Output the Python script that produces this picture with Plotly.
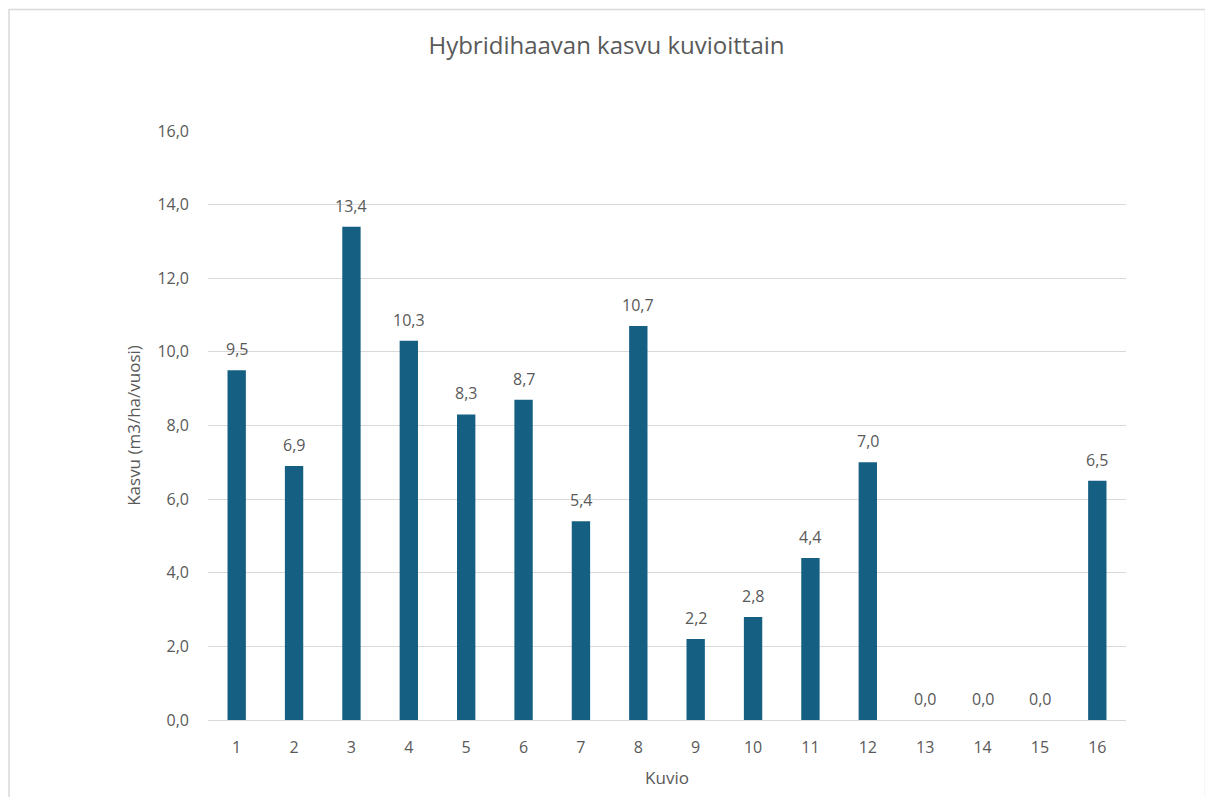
import plotly.graph_objects as go

categories = list(range(1, 17))
values = [9.5, 6.9, 13.4, 10.3, 8.3, 8.7, 5.4, 10.7, 2.2, 2.8, 4.4, 7.0, 0.0, 0.0, 0.0, 6.5]
y_ticks = [0, 2, 4, 6, 8, 10, 12, 14, 16]

title_text = "Hybridihaavan kasvu kuvioittain"
x_title = "Kuvio"
y_title = "Kasvu (m3/ha/vuosi)"

FONT = "Open Sans, Liberation Sans, sans-serif"
GREY = "#595959"

# page body has an 8px margin, so the figure is drawn 8px smaller / shifted
OFF = 8
W, H = 1213 - 2 * OFF, 805 - 2 * OFF
L, T = 208 - OFF, 131 - OFF
PW, PH = 918, 589

fig = go.Figure()
fig.add_trace(go.Bar(
    x=categories, y=values,
    marker=dict(color="#156082", line=dict(width=0)),
    hoverinfo="x+y",
))

for c, v in zip(categories, values):
    fig.add_annotation(
        x=c, y=v, text=f"{v:.1f}".replace(".", ","),
        showarrow=False, yanchor="bottom", yshift=8,
        font=dict(family=FONT, size=16, color=GREY),
    )

# outer chart frame
fig.add_shape(type="rect", xref="paper", yref="paper",
              x0=(9 - 208) / PW, x1=(1205.5 - 208) / PW,
              y0=(720 - 810) / PH, y1=(720 - 9.5) / PH,
              line=dict(color="#d9d9d9", width=1.5), fillcolor="rgba(0,0,0,0)", layer="below")

fig.update_layout(
    width=W, height=H,
    margin=dict(l=L, r=W - L - PW, t=T, b=H - T - PH, pad=0),
    paper_bgcolor="white", plot_bgcolor="white",
    separators=",.",
    bargap=0.68,
    showlegend=False,
    font=dict(family=FONT, color=GREY, size=16),
    title=dict(text=title_text, x=0.5, xref="container", xanchor="center",
               y=1 - (46 - OFF) / H, yanchor="middle",
               font=dict(family=FONT, size=24, color=GREY)),
    xaxis=dict(
        title=dict(text=x_title, font=dict(size=17, color=GREY), standoff=15),
        tickmode="array", tickvals=categories, ticktext=[str(c) for c in categories],
        range=[0.5, 16.5],
        tickfont=dict(size=16, color=GREY),
        showgrid=False, showline=False, zeroline=False, ticks="", ticklabelstandoff=16,
    ),
    yaxis=dict(
        title=dict(text=y_title, font=dict(size=17, color=GREY), standoff=12),
        range=[0, 16], tickvals=y_ticks, tickformat=".1f",
        tickfont=dict(size=16, color=GREY),
        showgrid=True, gridcolor="#d9d9d9", gridwidth=1.2,
        zeroline=True, zerolinecolor="#d9d9d9", zerolinewidth=1.2,
        showline=False, ticks="", ticklabelstandoff=18,
    ),
)

fig.write_html("out.html")
